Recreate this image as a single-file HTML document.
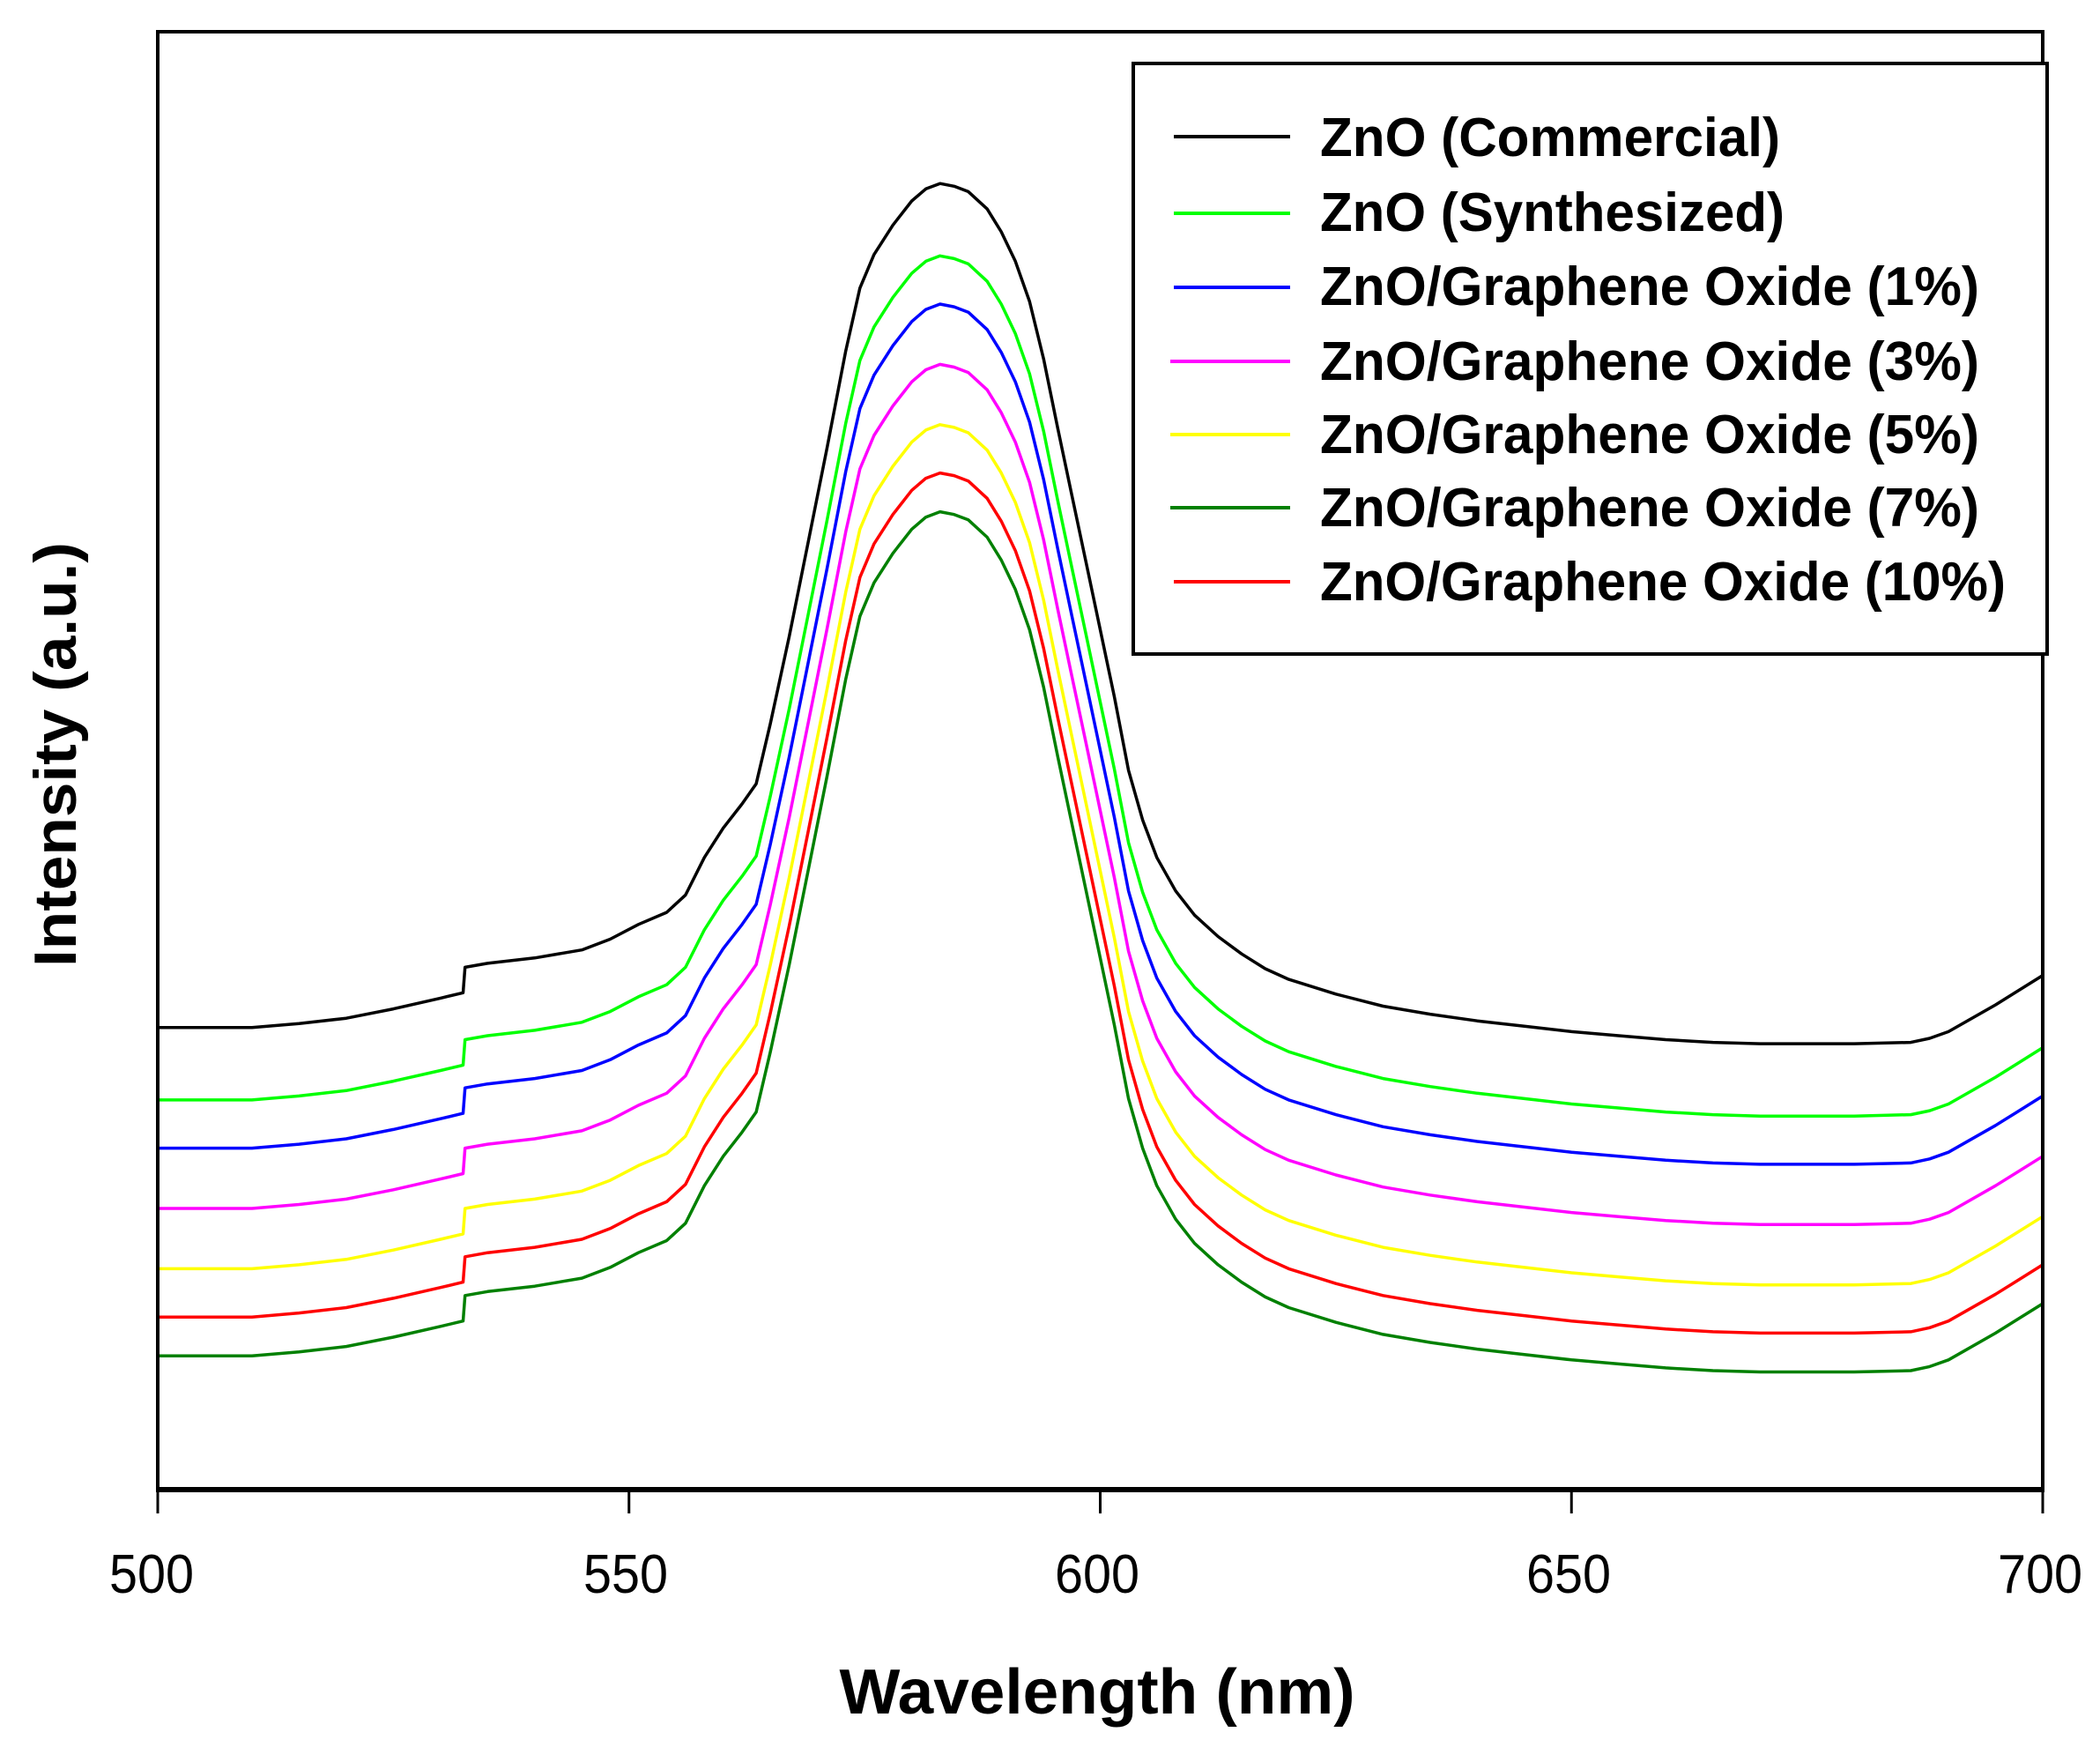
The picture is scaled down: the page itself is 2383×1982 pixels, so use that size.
<!DOCTYPE html>
<html><head><meta charset="utf-8"><style>
html,body{margin:0;padding:0;background:#fff;}
svg{display:block;}
text{font-family:"Liberation Sans",sans-serif;font-weight:bold;fill:#000;}
text.tk{font-weight:normal;}
</style></head><body>
<svg id="s" width="2383" height="1982" viewBox="0 0 2383 1982" xmlns="http://www.w3.org/2000/svg">
<rect width="2383" height="1982" fill="#fff"/>
<g id="curves" fill="none" stroke-width="3.5" stroke-linejoin="round"></g>
<line x1="179" y1="36" x2="2318" y2="36" stroke="#000" stroke-width="4"/>
<line x1="179" y1="34" x2="179" y2="1692" stroke="#000" stroke-width="4"/>
<line x1="2318" y1="34" x2="2318" y2="1692" stroke="#000" stroke-width="4"/>
<line x1="177" y1="1690" x2="2320" y2="1690" stroke="#000" stroke-width="6"/>
<g stroke="#000" stroke-width="3">
<line x1="179" y1="1690" x2="179" y2="1717"/>
<line x1="713.75" y1="1690" x2="713.75" y2="1717"/>
<line x1="1248.5" y1="1690" x2="1248.5" y2="1717"/>
<line x1="1783.25" y1="1690" x2="1783.25" y2="1717"/>
<line x1="2318" y1="1690" x2="2318" y2="1717"/>
</g>
<g font-size="62" text-anchor="middle">
<text class="tk" x="172" y="1807" textLength="96" lengthAdjust="spacingAndGlyphs">500</text>
<text class="tk" x="710" y="1807" textLength="96" lengthAdjust="spacingAndGlyphs">550</text>
<text class="tk" x="1245" y="1807" textLength="96" lengthAdjust="spacingAndGlyphs">600</text>
<text class="tk" x="1780" y="1807" textLength="96" lengthAdjust="spacingAndGlyphs">650</text>
<text class="tk" x="2315" y="1807" textLength="96" lengthAdjust="spacingAndGlyphs">700</text>
</g>
<text x="1245" y="1944" font-size="72" text-anchor="middle" textLength="585" lengthAdjust="spacingAndGlyphs">Wavelength (nm)</text>
<text transform="translate(86,856) rotate(-90)" font-size="68" text-anchor="middle" textLength="482" lengthAdjust="spacingAndGlyphs">Intensity (a.u.)</text>
<rect x="1286" y="72" width="1037" height="670" fill="#fff" stroke="#000" stroke-width="4"/>
<g stroke-width="4">
<line x1="1332" y1="155" x2="1464" y2="155" stroke="#000"/>
<line x1="1332" y1="242" x2="1464" y2="242" stroke="#00ff00"/>
<line x1="1332" y1="326" x2="1464" y2="326" stroke="#0000ff"/>
<line x1="1328" y1="410" x2="1464" y2="410" stroke="#ff00ff"/>
<line x1="1328" y1="493" x2="1464" y2="493" stroke="#ffff00"/>
<line x1="1328" y1="576" x2="1464" y2="576" stroke="#008000"/>
<line x1="1332" y1="660" x2="1464" y2="660" stroke="#ff0000"/>
</g>
<g font-size="62">
<text x="1498" y="177" textLength="522" lengthAdjust="spacingAndGlyphs">ZnO (Commercial)</text>
<text x="1498" y="262" textLength="527" lengthAdjust="spacingAndGlyphs">ZnO (Synthesized)</text>
<text x="1498" y="346" textLength="748" lengthAdjust="spacingAndGlyphs">ZnO/Graphene Oxide (1%)</text>
<text x="1498" y="431" textLength="748" lengthAdjust="spacingAndGlyphs">ZnO/Graphene Oxide (3%)</text>
<text x="1498" y="514" textLength="748" lengthAdjust="spacingAndGlyphs">ZnO/Graphene Oxide (5%)</text>
<text x="1498" y="597" textLength="748" lengthAdjust="spacingAndGlyphs">ZnO/Graphene Oxide (7%)</text>
<text x="1498" y="681" textLength="778" lengthAdjust="spacingAndGlyphs">ZnO/Graphene Oxide (10%)</text>
</g>
</svg>
<script>
var pts=[[500,767],[505,767],[510,767],[515,764],[520,760],[525,753],[530,745],[532.4,741],[532.6,722],[535,719],[540,715],[545,709],[548,701],[551,690],[554,681],[556,668],[558,640],[560,618],[562,600],[563.5,585],[565,540],[567,475],[569,405],[571,335],[573,262],[574.5,215],[576,190],[578,168],[580,150],[581.5,141],[583,137],[584.5,139],[586,143],[588,156],[589.5,173],[591,195],[592.5,225],[594,268],[595.5,320],[597,370],[598.5,420],[600,470],[601.5,520],[603,575],[604.5,612],[606,640],[608,665],[610,683],[612.5,699],[615,712],[617.5,723],[620,731],[625,742],[630,751],[635,757],[640,762],[645,766],[650,770],[655,773],[660,776],[665,778],[670,779],[675,779],[680,779],[686,778],[688,775],[690,770],[695,750],[700,728]];
var series=[["#000",0],["#00ff00",54],["#0000ff",90],["#ff00ff",135],["#ffff00",180],["#ff0000",216],["#008000",245]];
function X(w){return 179+(w-500)*10.695;}
var g=document.getElementById('curves');
series.slice().reverse().forEach(function(s){var d=pts.map(function(q,i){return (i?'L':'M')+X(q[0]).toFixed(1)+' '+((q[1]+s[1])*1.52).toFixed(1);}).join('');var p=document.createElementNS('http://www.w3.org/2000/svg','path');p.setAttribute('d',d);p.setAttribute('stroke',s[0]);g.appendChild(p);});
</script>
</body></html>
